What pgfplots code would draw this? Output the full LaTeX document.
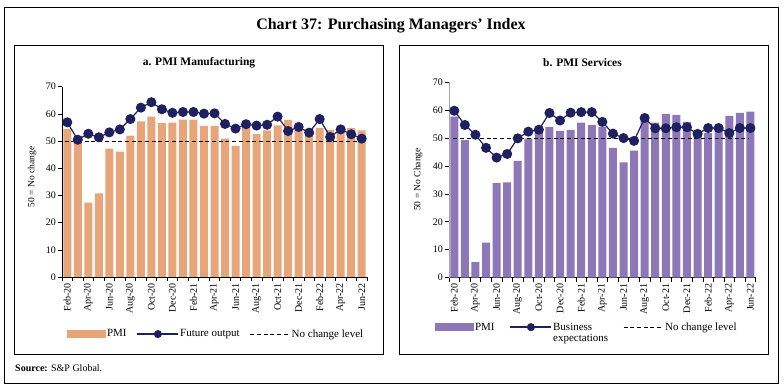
\documentclass[border=0pt]{standalone}
\usepackage{fontspec}
\setmainfont{Liberation Serif}
\usepackage{pgfplots}
\usepackage{pgfplotstable}
\pgfplotsset{compat=1.18}
\definecolor{pmiorange}{RGB}{232,165,122}
\definecolor{pmipurple}{RGB}{141,119,183}
\definecolor{navyline}{RGB}{30,32,96}

\pgfplotstableread{
x mfg fut
0 54.5 56.9
1 51.8 50.5
2 27.4 52.7
3 30.8 51.4
4 47.2 53.2
5 46.1 54.3
6 52.0 58.1
7 57.2 62.3
8 59.0 64.3
9 56.6 61.7
10 56.8 60.4
11 57.9 60.7
12 57.9 60.7
13 55.6 60.1
14 55.6 60.2
15 50.9 56.3
16 48.2 54.6
17 55.3 56.2
18 52.6 55.7
19 53.9 56.0
20 55.8 59.0
21 57.8 53.7
22 55.5 55.2
23 54.0 53.1
24 54.9 58.1
25 54.1 51.5
26 54.7 54.3
27 54.8 52.5
28 53.9 50.9
}\mfgdata

\pgfplotstableread{
x svc bus
0 57.7 59.8
1 49.3 54.7
2 5.5 51.2
3 12.5 46.5
4 33.8 43.0
5 34.1 44.3
6 41.8 49.9
7 49.8 52.3
8 54.1 53.0
9 54.0 59.0
10 52.6 56.3
11 52.9 59.1
12 55.5 59.3
13 54.7 59.3
14 54.0 55.8
15 46.5 51.6
16 41.3 50.0
17 45.5 49.0
18 56.7 57.2
19 55.5 53.5
20 58.7 53.5
21 58.3 53.9
22 55.8 53.9
23 51.5 51.5
24 51.8 53.6
25 53.6 53.6
26 58.0 51.8
27 59.0 53.6
28 59.5 53.6
}\svcdata

\pgfplotsset{
  pmibase/.style={
    scale only axis,
    xmin=-0.5, xmax=28.5, ymin=0, ymax=70,
    axis x line*=bottom, axis y line*=left,
    axis line style={black, line width=0.6pt},
    ytick={0,10,...,70},
    xtick={-0.5,0.5,...,28.5},
    xticklabels={},
    extra x ticks={0,2,...,28},
    extra x tick labels={Feb-20,Apr-20,Jun-20,Aug-20,Oct-20,Dec-20,Feb-21,Apr-21,Jun-21,Aug-21,Oct-21,Dec-21,Feb-22,Apr-22,Jun-22},
    extra x tick style={tick style={draw=none}},
    tick align=outside,
    major tick length=4pt,
    tick style={black, line width=0.6pt},
    x tick label style={rotate=90, anchor=east, font=\fontsize{10}{12}\selectfont, inner sep=2pt},
    y tick label style={font=\fontsize{10}{12}\selectfont, inner sep=2pt},
    /pgf/number format/assume math mode=true,
    clip=false,
    legend cell align=left,
    legend style={draw=none, fill=none, inner sep=0pt,
      font=\fontsize{11}{12}\selectfont,
      nodes={inner sep=1pt}},
  },
  barleg/.style={legend image code/.code={\fill[#1] (0pt,-3.8pt) rectangle (39pt,3.8pt);}},
  lineleg/.style={legend image code/.code={\draw[navyline, line width=1.5pt] (0pt,0pt) -- (41pt,0pt); \fill[navyline] (20.5pt,0pt) circle (3.4pt);}},
  dashleg/.style={legend image code/.code={\draw[black, line width=1pt, dash pattern=on 4pt off 2.7pt] (0pt,0pt) -- (40pt,0pt);}},
}

\begin{document}
\begin{tikzpicture}[x=1pt,y=1pt]
\useasboundingbox (0,0) rectangle (784,388);
% frames
\draw[black, line width=0.8pt] (4,5) rectangle (778,381);
\draw[black, line width=0.8pt] (14,34) rectangle (383,343);
\draw[black, line width=0.8pt] (399,34) rectangle (768,343);
\node[font=\fontsize{16}{18}\selectfont\bfseries] at (391,362) {Chart 37: Purchasing Managers' Index};
\node[font=\fontsize{11.5}{13}\selectfont\bfseries] at (199,325) {a. PMI Manufacturing};
\node[font=\fontsize{11.5}{13}\selectfont\bfseries] at (582.5,325) {b. PMI Services};
\node[anchor=west, font=\fontsize{10}{12}\selectfont, inner sep=0pt] at (15,20) {\textbf{Source:} S\&P Global.};
\node[rotate=90, font=\fontsize{9.5}{11}\selectfont] at (32,211) {50 = No change};
\node[rotate=90, font=\fontsize{9.5}{11}\selectfont] at (418,208.5) {50 = No Change};

% left panel
\begin{axis}[pmibase,
  at={(62pt,111pt)}, anchor=south west,
  width=305pt, height=190.3pt,
  legend columns=3,
  legend style={at={(axis description cs:0.016,-0.30)}, anchor=west,
    /tikz/every even column/.append style={column sep=9pt}},
]
\addplot[ybar, bar width=8pt, fill=pmiorange, draw=none, barleg=pmiorange] table[x=x,y=mfg]{\mfgdata};
\addlegendentry{PMI}
\addplot[black, line width=1pt, dash pattern=on 4pt off 2.7pt, forget plot] coordinates {(-0.25,50) (28.25,50)};
\addplot[navyline, line width=1.2pt, mark=*, mark size=4.4pt, mark options={fill=navyline, draw=navyline, solid}, lineleg] table[x=x,y=fut]{\mfgdata};
\addlegendentry{Future output}
\addlegendimage{dashleg}
\addlegendentry{No change level}
\end{axis}

% right panel
\begin{axis}[pmibase,
  at={(449pt,110.5pt)}, anchor=south west,
  width=306.7pt, height=195.2pt,
  y axis line style={gray!70},
  legend columns=3,
  legend style={at={(axis description cs:-0.046,-0.282)}, anchor=west,
    /tikz/every even column/.append style={column sep=14pt}},
]
\addplot[ybar, bar width=8pt, fill=pmipurple, draw=none, barleg=pmipurple] table[x=x,y=svc]{\svcdata};
\addlegendentry{PMI}
\addplot[black, line width=1pt, dash pattern=on 4pt off 2.7pt, forget plot] coordinates {(-0.1,50) (27.8,50)};
\addplot[navyline, line width=1.2pt, mark=*, mark size=4.4pt, mark options={fill=navyline, draw=navyline, solid}, lineleg] table[x=x,y=bus]{\svcdata};
\addlegendentry{Business}
\addlegendimage{dashleg}
\addlegendentry{No change level}
\addlegendimage{empty legend}
\addlegendentry{}
\addlegendimage{empty legend}
\addlegendentry{expectations}
\end{axis}
\end{tikzpicture}
\end{document}
